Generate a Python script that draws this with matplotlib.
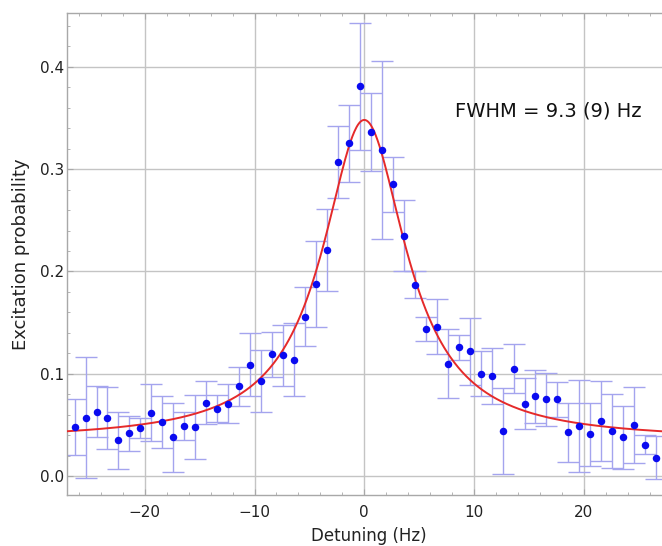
import numpy as np
import matplotlib
matplotlib.use("Agg")
import matplotlib.pyplot as plt
from matplotlib.ticker import MultipleLocator

# measured points (detuning in Hz, excitation probability, error)
detuning = [-26.4, -25.4, -24.4, -23.4, -22.4, -21.4, -20.4, -19.4, -18.4, -17.4,
            -16.4, -15.4, -14.4, -13.4, -12.4, -11.4, -10.4, -9.4, -8.4, -7.4,
            -6.4, -5.4, -4.4, -3.4, -2.4, -1.4, -0.4, 0.6, 1.6, 2.6,
            3.6, 4.6, 5.6, 6.6, 7.6, 8.6, 9.6, 10.6, 11.6, 12.6,
            13.6, 14.6, 15.6, 16.6, 17.6, 18.6, 19.6, 20.6, 21.6, 22.6,
            23.6, 24.6, 25.6, 26.6]
prob = [0.048, 0.057, 0.063, 0.057, 0.035, 0.042, 0.047, 0.062, 0.053, 0.038,
        0.049, 0.048, 0.072, 0.066, 0.071, 0.088, 0.109, 0.093, 0.119, 0.118,
        0.114, 0.156, 0.188, 0.221, 0.307, 0.325, 0.381, 0.336, 0.319, 0.285,
        0.235, 0.187, 0.144, 0.146, 0.110, 0.126, 0.122, 0.100, 0.098, 0.044,
        0.105, 0.071, 0.078, 0.075, 0.075, 0.043, 0.049, 0.041, 0.054, 0.044,
        0.038, 0.050, 0.031, 0.018]
err = [0.027, 0.059, 0.025, 0.030, 0.028, 0.017, 0.010, 0.028, 0.025, 0.034,
       0.014, 0.031, 0.021, 0.013, 0.019, 0.019, 0.031, 0.030, 0.022, 0.030,
       0.036, 0.029, 0.042, 0.040, 0.035, 0.038, 0.062, 0.038, 0.087, 0.027,
       0.035, 0.013, 0.012, 0.027, 0.034, 0.012, 0.033, 0.022, 0.027, 0.042,
       0.024, 0.025, 0.026, 0.026, 0.017, 0.029, 0.045, 0.031, 0.039, 0.036,
       0.031, 0.037, 0.009, 0.021]

# lorentzian fit parameters
fit_center = 0.0
fit_fwhm = 9.3
fit_amp = 0.313
fit_offset = 0.035

xlim = (-27.09, 27.95)
ylim = (-0.0183, 0.4527)

fig = plt.figure(figsize=(6.62, 5.46), dpi=100)
ax = fig.add_axes([0.1012, 0.0934, 0.9124, 0.8833])

grid_col = '#c4c4c4'
frame_col = '#a8a8a8'

ax.errorbar(detuning, prob, yerr=err, fmt='none', ecolor='#a4a4ee',
            elinewidth=1.0, capsize=7.8, capthick=1.0, zorder=2)

xf = np.linspace(xlim[0], xlim[1], 600)
yf = fit_offset + fit_amp / (1 + (2 * (xf - fit_center) / fit_fwhm) ** 2)
ax.plot(xf, yf, color='#e52a2a', lw=1.4, zorder=3)

ax.plot(detuning, prob, 'o', color='#0a0af0', ms=5.4, mec='none', zorder=4)

ax.set_xlim(xlim)
ax.set_ylim(ylim)

ax.xaxis.set_major_locator(MultipleLocator(10))
ax.xaxis.set_minor_locator(MultipleLocator(2))
ax.yaxis.set_major_locator(MultipleLocator(0.1))
ax.yaxis.set_minor_locator(MultipleLocator(0.02))
ax.yaxis.set_major_formatter(plt.FormatStrFormatter('%.1f'))

ax.grid(True, which='major', color=grid_col, lw=1.0, zorder=0)
for s in ax.spines.values():
    s.set_color(frame_col)
    s.set_linewidth(1.0)

ax.tick_params(which='both', direction='in', top=True, right=True,
               color=frame_col, labelcolor='#222222', labelsize=11)
ax.tick_params(which='major', length=4, width=0.8)
ax.tick_params(which='minor', length=2.2, width=0.6)
ax.tick_params(axis='x', pad=7)
ax.tick_params(axis='y', pad=2)

ax.set_xlabel('Detuning (Hz)', fontsize=12, color='#222222', labelpad=5)
ax.set_ylabel('Excitation probability', fontsize=13, color='#222222', labelpad=7)

ax.text(8.26, 0.357, 'FWHM = 9.3 (9) Hz', fontsize=14, color='#111111',
        ha='left', va='center')

fig.savefig('out.png', dpi=100)
